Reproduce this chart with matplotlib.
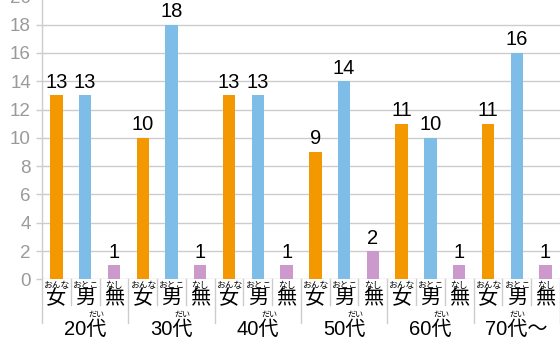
import matplotlib
matplotlib.use("Agg")
import matplotlib.pyplot as plt

plt.rcParams['font.family'] = ['Liberation Sans', 'Noto Sans CJK JP']

# data
age_groups = ["20代", "30代", "40代", "50代", "60代", "70代〜"]
genders = ["女", "男", "無"]
gender_ruby = ["おんな", "おとこ", "なし"]
female = [13, 10, 13, 9, 11, 11]
male = [13, 18, 13, 14, 10, 16]
none_ = [1, 1, 1, 2, 1, 1]

colors = ["#F39800", "#7DBDE8", "#CC99CC"]
grid_col = "#CCCCCC"

fig = plt.figure(figsize=(5.6, 3.4), dpi=100)
ax = fig.add_axes([42 / 560, 1 - 279.3 / 340, 517.9 / 560, 283 / 340])

series = [female, male, none_]
for g in range(len(age_groups)):
    for s, vals in enumerate(series):
        x = g * 3 + s
        ax.bar(x, vals[g], width=0.43, color=colors[s], zorder=3)
        ax.annotate(str(vals[g]), (x, vals[g]), xytext=(0, 2.5),
                    textcoords="offset points", ha="center", va="bottom",
                    fontsize=14.5, color="black")

n = len(age_groups) * 3
ax.set_xlim(-0.5, n - 0.5)
ax.set_ylim(0, 20)
ax.set_yticks(range(0, 21, 2))
ax.set_xticks([])
ax.yaxis.grid(True, color=grid_col, linewidth=1.0, zorder=0)
ax.tick_params(axis="y", colors=grid_col, labelcolor="#9A9A9A",
               labelsize=13.5, length=4, width=1.0, pad=4)
for side in ["top", "right", "bottom"]:
    ax.spines[side].set_visible(False)
ax.spines["left"].set_color(grid_col)
ax.spines["left"].set_linewidth(1.0)

tr = ax.get_xaxis_transform()
h = 283.0

# separators below the axis
for k in range(n + 1):
    depth = 43.7 if k % 3 == 0 else 25.7
    ax.plot([k - 0.5, k - 0.5], [0, -depth / h], transform=tr,
            color=grid_col, linewidth=1.0, clip_on=False)

# category labels with ruby
for g in range(len(age_groups)):
    for s in range(3):
        x = g * 3 + s
        ax.text(x, -6.0 / h, gender_ruby[s], transform=tr, ha="center",
                va="center", fontsize=6.3, color="black")
        ax.text(x, -19.6 / h, genders[s], transform=tr, ha="center",
                va="center", fontsize=14.5, color="black")

# group labels with ruby over 代
fig.canvas.draw()
renderer = fig.canvas.get_renderer()
for g, lab in enumerate(age_groups):
    cx = g * 3 + 1
    t = ax.text(cx, -50.0 / h, lab, transform=tr, ha="center", va="center",
                fontsize=14.5, color="black")
    bb = t.get_window_extent(renderer)
    i = lab.index("代")
    pre = ax.text(0, 0, lab[:i], fontsize=14.5)
    dai = ax.text(0, 0, "代", fontsize=14.5)
    wpre = pre.get_window_extent(renderer).width
    wdai = dai.get_window_extent(renderer).width
    pre.remove()
    dai.remove()
    xpix = bb.x0 + wpre + wdai / 2
    xdata = ax.transData.inverted().transform((xpix, 0))[0]
    ax.text(xdata, -35.7 / h, "だい", transform=tr, ha="center", va="center",
            fontsize=5.8, color="black")

fig.savefig("out.png", dpi=100)
